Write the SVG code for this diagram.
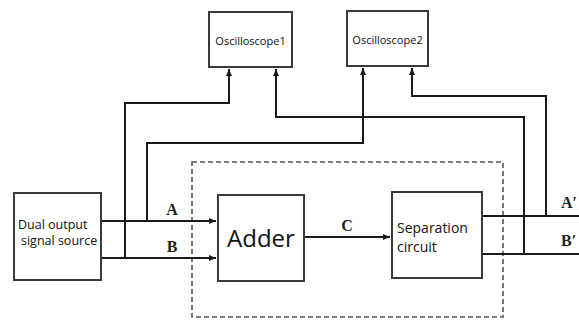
<svg xmlns="http://www.w3.org/2000/svg" width="579" height="320" viewBox="0 0 579 320">
<defs>
<marker id="arr" markerWidth="8" markerHeight="8" refX="7" refY="4" orient="auto" markerUnits="userSpaceOnUse">
<path d="M0,1 L7,4 L0,7 Z" fill="#1a1a1a"/>
</marker>
<style>
.box{fill:#fff;stroke:#3a3a3a;stroke-width:2}
.ln{fill:none;stroke:#1a1a1a;stroke-width:2}
.sans{font-family:"Open Sans","Noto Sans","Liberation Sans",sans-serif;fill:#111}
.lab{font-family:"Liberation Serif","Times New Roman",serif;font-weight:bold;font-size:16px;fill:#222}
</style>
</defs>
<rect width="579" height="320" fill="#fff"/>
<rect x="192" y="162" width="311" height="155" fill="none" stroke="#555" stroke-width="1.6" stroke-dasharray="5,3"/>
<g id="connectors">
<path class="ln" d="M101,221 H216" marker-end="url(#arr)"/>
<path class="ln" d="M101,258 H216" marker-end="url(#arr)"/>
<path class="ln" d="M304,237 H390" marker-end="url(#arr)"/>
<path class="ln" d="M125,258 V103 H229 V69" marker-end="url(#arr)"/>
<path class="ln" d="M147,221 V143 H363 V68" marker-end="url(#arr)"/>
<path class="ln" d="M482,216 H579"/>
<path class="ln" d="M482,254 H579"/>
<path class="ln" d="M524,254 V117 H276 V69" marker-end="url(#arr)"/>
<path class="ln" d="M546,216 V96 H412 V68" marker-end="url(#arr)"/>
</g>
<g id="source">
<rect class="box" x="14" y="193" width="87" height="87"/>
<text class="sans" font-size="12.5" x="18" y="229">Dual output</text>
<text class="sans" font-size="12.5" x="21" y="245">signal source</text>
</g>
<g id="adder">
<rect class="box" x="218" y="195" width="86" height="86"/>
<text class="sans" font-size="24" x="261" y="247" text-anchor="middle">Adder</text>
</g>
<g id="separation">
<rect class="box" x="392" y="192" width="90" height="86"/>
<text class="sans" font-size="14" x="397" y="233">Separation</text>
<text class="sans" font-size="14" x="397" y="252">circuit</text>
</g>
<g id="osc1">
<rect class="box" x="209" y="12" width="83" height="55"/>
<text class="sans" font-size="11" x="250.5" y="45" text-anchor="middle">Oscilloscope1</text>
</g>
<g id="osc2">
<rect class="box" x="347" y="11" width="81" height="55"/>
<text class="sans" font-size="11" x="387.5" y="44" text-anchor="middle">Oscilloscope2</text>
</g>
<g id="labels">
<text class="lab" x="172" y="215" text-anchor="middle">A</text>
<text class="lab" x="172" y="252" text-anchor="middle">B</text>
<text class="lab" x="347" y="231" text-anchor="middle" font-size="18">C</text>
<text class="lab" x="561" y="208">A′</text>
<text class="lab" x="561" y="246">B′</text>
</g>
</svg>
